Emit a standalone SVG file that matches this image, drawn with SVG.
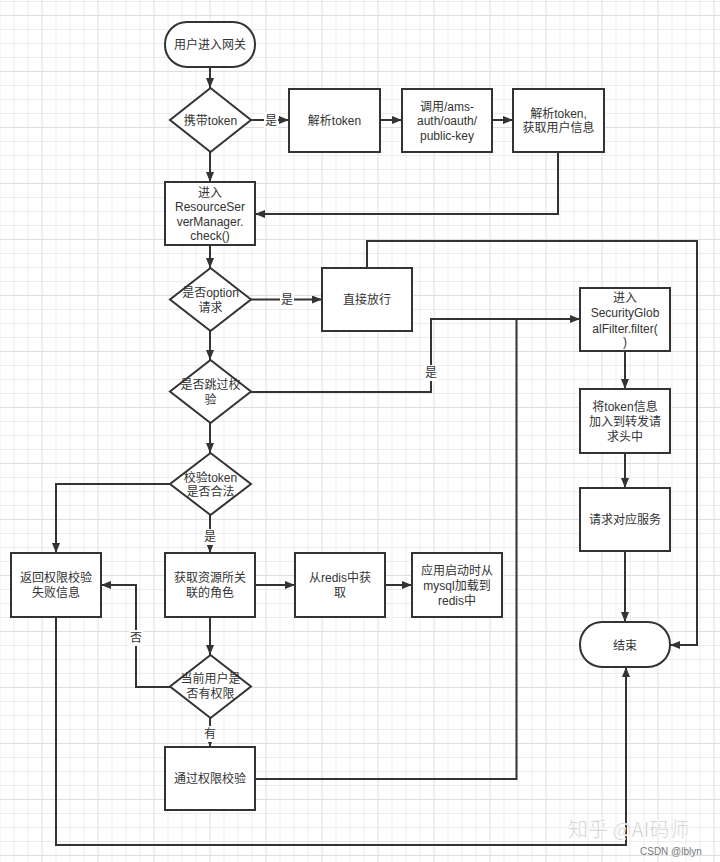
<svg xmlns="http://www.w3.org/2000/svg" width="720" height="862" viewBox="0 0 720 862">
<defs>
<pattern id="grid" x="13.5" y="15" width="56" height="56" patternUnits="userSpaceOnUse">
<path d="M0.5 0V56M14.5 0V56M42.5 0V56M0 14.5H56M0 28.5H56M0 42.5H56" stroke="#ececec" stroke-width="1" fill="none"/>
<path d="M28.5 0V56M0 0.5H56" stroke="#dedede" stroke-width="1" fill="none"/>
</pattern>
<marker id="arr" viewBox="0 0 10 8" refX="10" refY="4" markerWidth="10" markerHeight="8" markerUnits="userSpaceOnUse" orient="auto">
<path d="M0,0 L10,4 L0,8 z" fill="#333"/>
</marker>
</defs>
<style>
.n{fill:#fff;stroke:#333;stroke-width:2}
.t{font-family:"Liberation Sans","Noto Sans CJK SC",sans-serif;font-size:12px;fill:#333;text-anchor:middle;dominant-baseline:central}
.c{fill:none;stroke:#333;stroke-width:2}
.a{marker-end:url(#arr)}
.lb{fill:#fff}
.wm{font-family:"Noto Sans CJK SC",sans-serif;fill:#c8c8c8;stroke:#fff;stroke-width:0.6}
.wm2{font-family:"Liberation Sans","Noto Sans CJK SC",sans-serif;fill:#777}
</style>
<rect width="720" height="862" fill="#fff"/>
<rect width="720" height="862" fill="url(#grid)"/>

<g id="connectors">
<path class="c a" d="M210,67 V88"/>
<path class="c a" d="M251,120 H289"/>
<path class="c a" d="M380,120 H402"/>
<path class="c a" d="M492,120 H513"/>
<path class="c a" d="M558,152 V214 H255"/>
<path class="c a" d="M210,152 V182"/>
<path class="c a" d="M210,245 V268"/>
<path class="c a" d="M251,299.5 H322"/>
<path class="c a" d="M367,268 V241 H697 V645 H670"/>
<path class="c a" d="M210,331 V360"/>
<path class="c a" d="M251,392 H431 V319 H580"/>
<path class="c a" d="M210,423 V453"/>
<path class="c a" d="M170,484 H56 V553"/>
<path class="c a" d="M210,515 V553"/>
<path class="c a" d="M255,585 H295"/>
<path class="c a" d="M385,585 H412"/>
<path class="c a" d="M210,617 V655"/>
<path class="c a" d="M170,687 H136 V585 H101"/>
<path class="c a" d="M210,718 V747"/>
<path class="c" d="M255,779 H516.5 V319"/>
<path class="c a" d="M625,351 V389"/>
<path class="c a" d="M625,453 V488"/>
<path class="c a" d="M625,551 V622"/>
<path class="c a" d="M56,617 V845 H626 V667"/>
<rect class="lb" x="264" y="112" width="14" height="16"/>
<text class="t" x="271" y="121">是</text>
<rect class="lb" x="280" y="292" width="14" height="16"/>
<text class="t" x="287" y="300">是</text>
<rect class="lb" x="424" y="365" width="14" height="16"/>
<text class="t" x="431" y="373">是</text>
<rect class="lb" x="203" y="529" width="14" height="16"/>
<text class="t" x="210" y="537">是</text>
<rect class="lb" x="129" y="630" width="14" height="16"/>
<text class="t" x="136" y="638">否</text>
<rect class="lb" x="203" y="726" width="14" height="16"/>
<text class="t" x="210" y="734">有</text>
</g>

<g id="start">
<rect class="n" x="165" y="22" width="90" height="45" rx="22" ry="22"/>
<text class="t" x="210" y="45">用户进入网关</text>
</g>
<g id="d-token">
<polygon class="n" points="210.5,88 251,120 210.5,152 170,120"/>
<text class="t" x="210.5" y="121">携带token</text>
</g>
<g id="parse-token">
<rect class="n" x="289" y="89" width="91" height="63"/>
<text class="t" x="334.5" y="121">解析token</text>
</g>
<g id="call-key">
<rect class="n" x="402" y="89" width="90" height="63"/>
<text class="t" x="447" y="107">调用/ams-</text>
<text class="t" x="447" y="121">auth/oauth/</text>
<text class="t" x="447" y="136">public-key</text>
</g>
<g id="parse-user">
<rect class="n" x="513" y="89" width="91" height="63"/>
<text class="t" x="558.5" y="114">解析token,</text>
<text class="t" x="558.5" y="128">获取用户信息</text>
</g>
<g id="rsm">
<rect class="n" x="165" y="182" width="90" height="63"/>
<text class="t" x="210" y="193">进入</text>
<text class="t" x="210" y="207">ResourceSer</text>
<text class="t" x="210" y="222">verManager.</text>
<text class="t" x="210" y="236">check()</text>
</g>
<g id="d-option">
<polygon class="n" points="210.5,268 251,299.5 210.5,331 170,299.5"/>
<text class="t" x="210.5" y="293">是否option</text>
<text class="t" x="210.5" y="308">请求</text>
</g>
<g id="pass">
<rect class="n" x="322" y="268" width="90" height="63"/>
<text class="t" x="367" y="300">直接放行</text>
</g>
<g id="d-skip">
<polygon class="n" points="210.5,360 251,391.5 210.5,423 170,391.5"/>
<text class="t" x="210.5" y="385">是否跳过校</text>
<text class="t" x="210.5" y="400">验</text>
</g>
<g id="d-valid">
<polygon class="n" points="210.5,453 251,484 210.5,515 170,484"/>
<text class="t" x="210.5" y="478">校验token</text>
<text class="t" x="210.5" y="492">是否合法</text>
</g>
<g id="fail">
<rect class="n" x="11" y="553" width="90" height="64"/>
<text class="t" x="56" y="578">返回权限校验</text>
<text class="t" x="56" y="593">失败信息</text>
</g>
<g id="roles">
<rect class="n" x="165" y="553" width="90" height="64"/>
<text class="t" x="210" y="578">获取资源所关</text>
<text class="t" x="210" y="593">联的角色</text>
</g>
<g id="redis">
<rect class="n" x="295" y="553" width="90" height="64"/>
<text class="t" x="340" y="578">从redis中获</text>
<text class="t" x="340" y="593">取</text>
</g>
<g id="load">
<rect class="n" x="412" y="553" width="90" height="64"/>
<text class="t" x="457" y="571">应用启动时从</text>
<text class="t" x="457" y="586">mysql加载到</text>
<text class="t" x="457" y="601">redis中</text>
</g>
<g id="d-perm">
<polygon class="n" points="210.5,655 251,686.5 210.5,718 170,686.5"/>
<text class="t" x="210.5" y="679">当前用户是</text>
<text class="t" x="210.5" y="694">否有权限</text>
</g>
<g id="ok">
<rect class="n" x="165" y="747" width="90" height="63"/>
<text class="t" x="210" y="779">通过权限校验</text>
</g>
<g id="sgf">
<rect class="n" x="580" y="288" width="90" height="63"/>
<text class="t" x="625" y="298">进入</text>
<text class="t" x="625" y="313">SecurityGlob</text>
<text class="t" x="625" y="329">alFilter.filter(</text>
<text class="t" x="625" y="342">)</text>
</g>
<g id="header">
<rect class="n" x="580" y="389" width="90" height="64"/>
<text class="t" x="625" y="407">将token信息</text>
<text class="t" x="625" y="422">加入到转发请</text>
<text class="t" x="625" y="437">求头中</text>
</g>
<g id="service">
<rect class="n" x="580" y="488" width="90" height="63"/>
<text class="t" x="625" y="520">请求对应服务</text>
</g>
<g id="end">
<rect class="n" x="580" y="622" width="90" height="45" rx="22" ry="22"/>
<text class="t" x="625" y="646">结束</text>
</g>

<text class="wm" x="568" y="837" font-size="20">知乎 @AI码师</text>
<text class="wm2" x="640" y="855" font-size="10">CSDN @lblyn</text>
</svg>
